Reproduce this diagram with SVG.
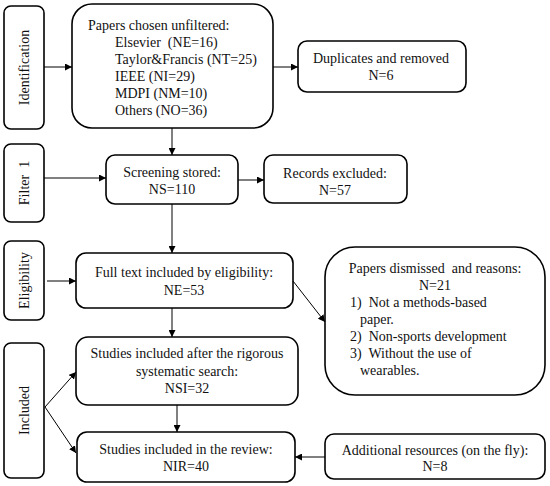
<svg xmlns="http://www.w3.org/2000/svg" width="550" height="486" viewBox="0 0 550 486">
<defs>
<marker id="ah" viewBox="0 0 10 10" refX="10" refY="5" markerWidth="7" markerHeight="7" orient="auto" markerUnits="userSpaceOnUse">
<path d="M0,0 L10,5 L0,10 z" fill="#000"/>
</marker>
<style>
.box{fill:#fff;stroke:#000;stroke-width:1.6}
text{font-family:"Liberation Serif","Times New Roman",serif;font-size:14px;fill:#111;white-space:pre}
.c{text-anchor:middle}
.con line{stroke:#000;stroke-width:1;marker-end:url(#ah)}
</style>
</defs>
<rect width="550" height="486" fill="#fff"/>

<g id="lbl-identification">
<rect class="box" x="4" y="6" width="40" height="123" rx="7"/>
<text class="c" transform="translate(29,67.5) rotate(-90)">Identification</text>
</g>
<g id="lbl-filter1">
<rect class="box" x="4" y="144" width="40" height="78" rx="7"/>
<text class="c" transform="translate(29,183) rotate(-90)">Filter  1</text>
</g>
<g id="lbl-eligibility">
<rect class="box" x="4" y="241" width="40" height="79" rx="7"/>
<text class="c" transform="translate(29,280.5) rotate(-90)">Eligibility</text>
</g>
<g id="lbl-included">
<rect class="box" x="4" y="343" width="40" height="135" rx="7"/>
<text class="c" transform="translate(29,410.5) rotate(-90)">Included</text>
</g>

<g id="n-papers">
<rect class="box" x="72" y="4" width="201" height="124" rx="20"/>
<text x="88" y="30">Papers chosen unfiltered:</text>
<text x="115" y="47">Elsevier  (NE=16)</text>
<text x="115" y="64">Taylor&amp;Francis (NT=25)</text>
<text x="115" y="81">IEEE (NI=29)</text>
<text x="115" y="98">MDPI (NM=10)</text>
<text x="115" y="115">Others (NO=36)</text>
</g>
<g id="n-duplicates">
<rect class="box" x="298" y="41" width="168" height="51" rx="9"/>
<text class="c" x="381" y="63">Duplicates and removed</text>
<text class="c" x="381" y="80">N=6</text>
</g>
<g id="n-screening">
<rect class="box" x="106" y="155" width="132" height="49" rx="9"/>
<text class="c" x="172" y="177">Screening stored:</text>
<text class="c" x="172" y="194">NS=110</text>
</g>
<g id="n-records">
<rect class="box" x="264" y="155" width="143" height="48" rx="9"/>
<text class="c" x="335" y="178">Records excluded:</text>
<text class="c" x="335" y="195">N=57</text>
</g>
<g id="n-fulltext">
<rect class="box" x="76" y="253" width="217" height="55" rx="10"/>
<text class="c" x="184" y="277">Full text included by eligibility:</text>
<text class="c" x="184" y="295">NE=53</text>
</g>
<g id="n-dismissed">
<rect class="box" x="325" y="247" width="220" height="148" rx="30"/>
<text class="c" x="435" y="273">Papers dismissed  and reasons:</text>
<text class="c" x="435" y="290">N=21</text>
<text x="350" y="307">1)  Not a methods-based</text>
<text x="360" y="324">paper.</text>
<text x="350" y="341">2)  Non-sports development</text>
<text x="350" y="358">3)  Without the use of</text>
<text x="360" y="375">wearables.</text>
</g>
<g id="n-studies">
<rect class="box" x="76" y="337" width="222" height="68" rx="12"/>
<text class="c" x="187" y="358">Studies included after the rigorous</text>
<text class="c" x="187" y="376">systematic search:</text>
<text class="c" x="187" y="393">NSI=32</text>
</g>
<g id="n-review">
<rect class="box" x="77" y="432" width="218" height="50" rx="10"/>
<text class="c" x="186" y="454">Studies included in the review:</text>
<text class="c" x="186" y="471">NIR=40</text>
</g>
<g id="n-additional">
<rect class="box" x="325" y="434" width="220" height="45" rx="9"/>
<text class="c" x="435" y="455">Additional resources (on the fly):</text>
<text class="c" x="435" y="471">N=8</text>
</g>

<g id="connectors" class="con">
<line x1="44" y1="67" x2="72" y2="67"/>
<line x1="273" y1="67" x2="298" y2="67"/>
<line x1="172" y1="128" x2="172" y2="155"/>
<line x1="44" y1="178" x2="106" y2="178"/>
<line x1="238" y1="180" x2="264" y2="180"/>
<line x1="172" y1="204" x2="172" y2="253"/>
<line x1="47" y1="281" x2="76" y2="281"/>
<line x1="293" y1="281" x2="325" y2="322"/>
<line x1="172" y1="308" x2="172" y2="337"/>
<line x1="45" y1="407" x2="76" y2="372"/>
<line x1="45" y1="407" x2="76" y2="453"/>
<line x1="177" y1="405" x2="177" y2="432"/>
<line x1="325" y1="457" x2="295" y2="457"/>
</g>
</svg>
